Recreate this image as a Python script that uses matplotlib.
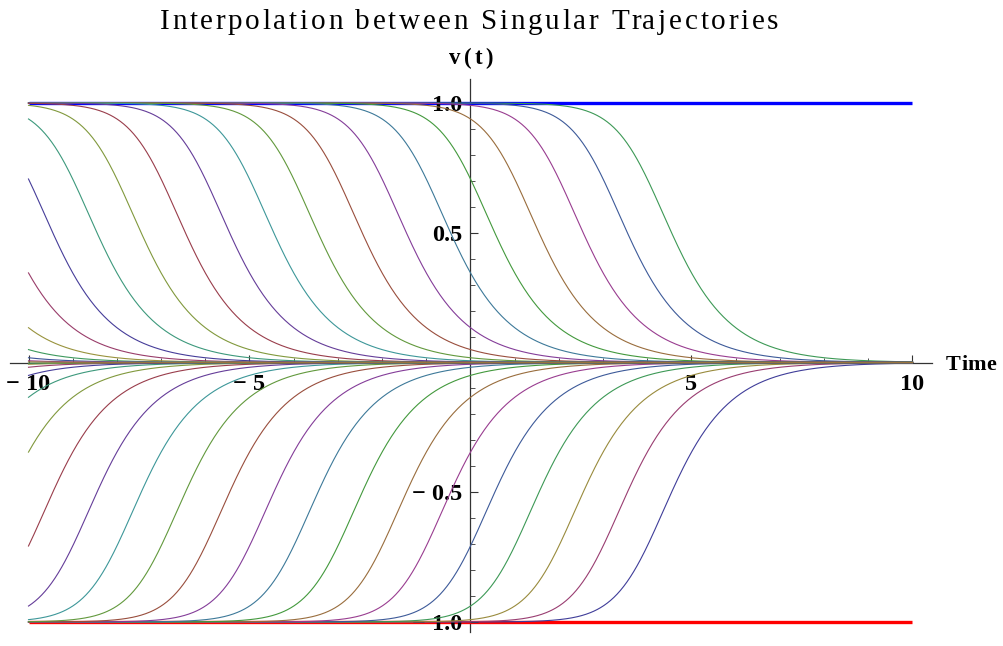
import colorsys
import numpy as np
import matplotlib
matplotlib.use("Agg")
import matplotlib.pyplot as plt
from matplotlib.ticker import FixedLocator, MultipleLocator

# ---- data ----
# time shifts t0 of the heteroclinic solutions v = ±1/sqrt(1+exp(2(t-t0)))
upper_shifts = [4, 3, 2, 1, 0, -1, -2, -3, -4, -5, -6, -7, -8, -9, -10, -11, -12, -13, -14, -15, -16]
lower_shifts = [4, 3, 2, 1, 0, -1, -2, -3, -4, -5, -6, -7, -8, -9, -10, -11, -12, -13, -14, -15, -16]
upper_color_offset = 3
lower_color_offset = 0
singular_levels = [1.0, -1.0]
singular_colors = ["#0000ff", "#ff0000"]
x_major = [-10, -5, 5, 10]
x_labels = ["− 10", "− 5", "5", "10"]
y_major = [-1.0, -0.5, 0.5, 1.0]
y_labels = ["− 1.0", "− 0.5", "0.5", "1.0"]
t_range = (-10, 10)

title = "Interpolation between Singular Trajectories"
xlabel = "Time"
ylabel = "v(t)"


def mma_color(i):
    h = (0.67 + i * 0.236067977) % 1.0
    return colorsys.hsv_to_rgb(h, 0.6, 0.6)


W, H = 1004, 646
fig = plt.figure(figsize=(W / 100, H / 100), dpi=100)
renderer = fig.canvas.get_renderer()


def spaced_text(x_px, y_px, s, extra, ha="center", **kw):
    """Draw text with extra letter spacing (pixels), positioned in figure pixels."""
    widths = [0.0]
    for i in range(1, len(s) + 1):
        tt = fig.text(0, 0, s[:i], **kw)
        widths.append(tt.get_window_extent(renderer).width)
        tt.remove()
    total = widths[-1] + extra * (len(s) - 1)
    if ha == "center":
        x0 = x_px - total / 2
    elif ha == "left":
        x0 = x_px
    else:
        x0 = x_px - total
    for i, ch in enumerate(s):
        if ch == " ":
            continue
        fig.text((x0 + widths[i] + extra * i) / W, 1 - y_px / H, ch,
                 ha="left", va="center", **kw)


# axes pixel box chosen so x=-10 -> px 28.5, x=10 -> px 912.5, y=1 -> px 103, y=-1 -> px 622
px_left, px_right, px_top, px_bot = 10, 932, 79, 632
ax = fig.add_axes([px_left / W, 1 - px_bot / H, (px_right - px_left) / W, (px_bot - px_top) / H])
sx = (912.5 - 28.5) / 20.0
sy = (622 - 103) / 2.0
ax.set_xlim(-10 - (28.5 - px_left) / sx, 10 + (px_right - 912.5) / sx)
ax.set_ylim(-1 - (px_bot - 622) / sy, 1 + (103 - px_top) / sy)

t = np.linspace(t_range[0], t_range[1], 800)

for lvl, col in zip(singular_levels, singular_colors):
    ax.plot(t_range, [lvl, lvl], color=col, lw=2.4, zorder=1, solid_capstyle="butt")

for i, t0 in enumerate(lower_shifts):
    v = -1.0 / np.sqrt(1.0 + np.exp(2.0 * (t - t0)))
    ax.plot(t, v, color=mma_color(i + lower_color_offset), lw=0.8, zorder=2)

for i, t0 in enumerate(upper_shifts):
    v = 1.0 / np.sqrt(1.0 + np.exp(2.0 * (t - t0)))
    ax.plot(t, v, color=mma_color(i + upper_color_offset), lw=0.8, zorder=2)

# Mathematica-style axes through the origin
for s in ["top", "right"]:
    ax.spines[s].set_visible(False)
ax.spines["left"].set_position(("data", 0))
ax.spines["bottom"].set_position(("data", 0))
for s in ["left", "bottom"]:
    ax.spines[s].set_color("#333333")
    ax.spines[s].set_linewidth(0.9)
    ax.spines[s].set_zorder(0.5)

ax.xaxis.set_major_locator(FixedLocator(x_major))
ax.set_xticklabels(x_labels)
ax.xaxis.set_minor_locator(MultipleLocator(1))
ax.yaxis.set_major_locator(FixedLocator(y_major))
ax.set_yticklabels(y_labels)
ax.yaxis.set_minor_locator(MultipleLocator(0.1))

ax.tick_params(axis="both", which="major", direction="in", length=6, width=0.8, color="#333333",
               labelsize=17.5)
ax.tick_params(axis="both", which="minor", direction="in", length=3.5, width=0.6, color="#333333")
ax.tick_params(axis="x", which="major", pad=8)
ax.tick_params(axis="y", which="major", pad=6)
for lab in ax.get_xticklabels() + ax.get_yticklabels():
    lab.set_fontfamily("Liberation Serif")
    lab.set_fontweight("bold")
    lab.set_zorder(5)

spaced_text(469, 22, title, 2.7, ha="center", family="Liberation Serif", fontsize=21)
spaced_text(471, 58, ylabel, 3.0, ha="center", family="Liberation Serif",
            fontweight="bold", fontsize=16.5)
spaced_text(946, 365, xlabel, 0.5, ha="left", family="Liberation Serif",
            fontweight="bold", fontsize=16)

fig.savefig("out.png", dpi=100)
